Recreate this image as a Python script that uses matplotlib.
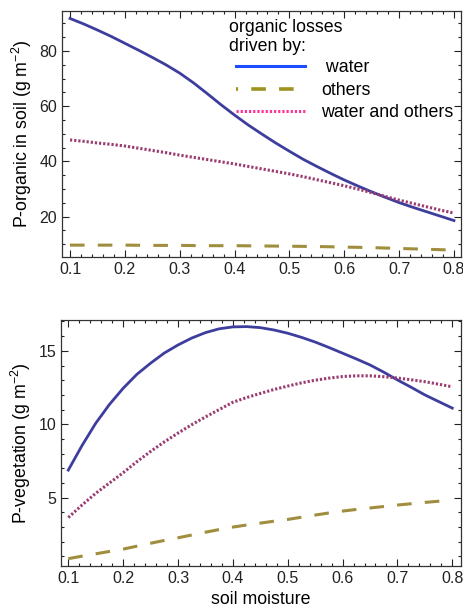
import numpy as np
import matplotlib
matplotlib.use("Agg")
import matplotlib.pyplot as plt
from matplotlib.lines import Line2D
from matplotlib.patches import Rectangle
from matplotlib.ticker import MultipleLocator

plt.rcParams["font.family"] = ["Liberation Sans", "DejaVu Sans"]
plt.rcParams["lines.scale_dashes"] = False

# soil moisture grid
moisture = [0.100, 0.125, 0.150, 0.175, 0.200, 0.225, 0.250, 0.275,
            0.300, 0.325, 0.350, 0.375, 0.400, 0.425, 0.450, 0.475,
            0.500, 0.525, 0.550, 0.575, 0.600, 0.625, 0.650, 0.675,
            0.700, 0.725, 0.750, 0.775, 0.800]

# P-organic in soil (g m-2)
soil_water = [91.8, 89.8, 87.6, 85.3, 82.8, 80.3, 77.7, 75.0,
              72.0, 68.5, 64.6, 60.6, 56.8, 53.2, 49.9, 46.7,
              43.7, 40.8, 38.2, 35.7, 33.3, 31.1, 29.0, 27.0,
              25.1, 23.4, 21.8, 20.2, 18.6]
soil_others = [9.7, 9.7, 9.7, 9.7, 9.7, 9.65, 9.6, 9.6,
               9.6, 9.55, 9.5, 9.5, 9.5, 9.45, 9.4, 9.35,
               9.3, 9.25, 9.2, 9.1, 9.0, 8.9, 8.8, 8.65,
               8.5, 8.35, 8.2, 8.05, 7.9]
soil_both = [47.8, 47.3, 46.7, 46.2, 45.6, 44.8, 44.0, 43.2,
             42.3, 41.5, 40.7, 39.9, 39.1, 38.2, 37.3, 36.4,
             35.5, 34.5, 33.4, 32.3, 31.2, 30.0, 28.7, 27.3,
             26.0, 24.8, 23.6, 22.4, 21.3]

# P-vegetation (g m-2)
veg_water = [6.88, 8.55, 10.07, 11.35, 12.45, 13.4, 14.16, 14.85,
             15.4, 15.87, 16.24, 16.5, 16.63, 16.65, 16.58, 16.42,
             16.2, 15.92, 15.6, 15.23, 14.84, 14.45, 14.04, 13.55,
             13.02, 12.52, 12.0, 11.55, 11.1]
veg_others = [0.85, 1.02, 1.18, 1.34, 1.5, 1.7, 1.9, 2.09,
              2.27, 2.46, 2.65, 2.83, 3.0, 3.14, 3.27, 3.4,
              3.52, 3.67, 3.82, 3.96, 4.09, 4.2, 4.3, 4.4,
              4.5, 4.59, 4.68, 4.76, 4.84]
veg_both = [3.65, 4.5, 5.3, 6.0, 6.7, 7.45, 8.15, 8.8,
            9.4, 9.97, 10.5, 11.0, 11.5, 11.82, 12.1, 12.37,
            12.6, 12.82, 13.0, 13.14, 13.25, 13.3, 13.3, 13.24,
            13.15, 13.03, 12.9, 12.73, 12.55]

legend_title = "organic losses\ndriven by:"
labels = [" water", "others", "water and others"]

# line colours in the panels and in the legend
c_water, c_others, c_both = "#3d3d9e", "#a08e3e", "#9a3d70"
l_water, l_others, l_both = "#1d4cff", "#9c9420", "#ff3399"

dash_style = (0, (10.5, 9.5))
dot_style = (0, (1.6, 1.4))
FS = 12.8

fig = plt.figure(figsize=(4.63, 6.15), dpi=100)
ax1 = fig.add_axes([62 / 463, 1 - 257 / 615, 399 / 463, 246 / 615])
ax2 = fig.add_axes([61 / 463, 49 / 615, 400 / 463, 246 / 615])


def style_axes(ax, y_major, y_minor):
    ax.xaxis.set_major_locator(MultipleLocator(0.1))
    ax.xaxis.set_minor_locator(MultipleLocator(0.02))
    ax.yaxis.set_major_locator(MultipleLocator(y_major))
    ax.yaxis.set_minor_locator(MultipleLocator(y_minor))
    ax.xaxis.set_major_formatter(lambda v, p: f"{v:.1f}")
    ax.tick_params(which="both", direction="in", top=True, right=True,
                   labelsize=11.5, colors="#222222", width=0.8)
    ax.tick_params(which="major", length=5)
    ax.tick_params(which="minor", length=2.5)
    for s in ax.spines.values():
        s.set_color("#333333")
        s.set_linewidth(0.9)


# top panel
ax1.plot(moisture, soil_water, color=c_water, lw=2.0)
ax1.plot(moisture, soil_others, color=c_others, lw=2.2, linestyle=dash_style)
ax1.plot(moisture, soil_both, color=c_both, lw=2.2, linestyle=dot_style,
         dash_capstyle="butt")
ax1.set_xlim(0.0854, 0.8128)
ax1.set_ylim(5.4, 94.5)
style_axes(ax1, 20, 5)
ax1.set_ylabel("P-organic in soil (g m$^{\\mathregular{-2}}$)", fontsize=FS)
ax1.set_xlabel("soil moisture", fontsize=FS, labelpad=9)

ax1.text(0.4185, 0.968, legend_title, transform=ax1.transAxes, ha="left",
         va="top", fontsize=FS, linespacing=1.2)
handles = [
    Line2D([], [], color=l_water, lw=2.2),
    Line2D([], [], color=l_others, lw=2.6, linestyle=(9, (10.5, 9.5))),
    Line2D([], [], color=l_both, lw=2.2, linestyle=dot_style),
]
ax1.legend(handles, labels, loc="upper left", bbox_to_anchor=(0.405, 0.855),
           frameon=False, fontsize=FS, handlelength=3.9, handletextpad=0.9,
           labelspacing=0.32, borderpad=0.2)

# bottom panel
ax2.plot(moisture, veg_water, color=c_water, lw=2.0)
ax2.plot(moisture, veg_others, color=c_others, lw=2.2, linestyle=dash_style)
ax2.plot(moisture, veg_both, color=c_both, lw=2.2, linestyle=dot_style,
         dash_capstyle="butt")
ax2.set_xlim(0.0867, 0.8159)
ax2.set_ylim(0.35, 17.1)
style_axes(ax2, 5, 1)
ax2.set_ylabel("P-vegetation (g m$^{\\mathregular{-2}}$)", fontsize=FS)
ax2.set_xlabel("soil moisture", fontsize=FS, labelpad=4)

# the top panel's axis label is cut off in the original
fig.add_artist(Rectangle((0, 1 - 318 / 615), 1, 29 / 615,
                         transform=fig.transFigure, color="white", zorder=10))

fig.savefig("out.png", dpi=100)
